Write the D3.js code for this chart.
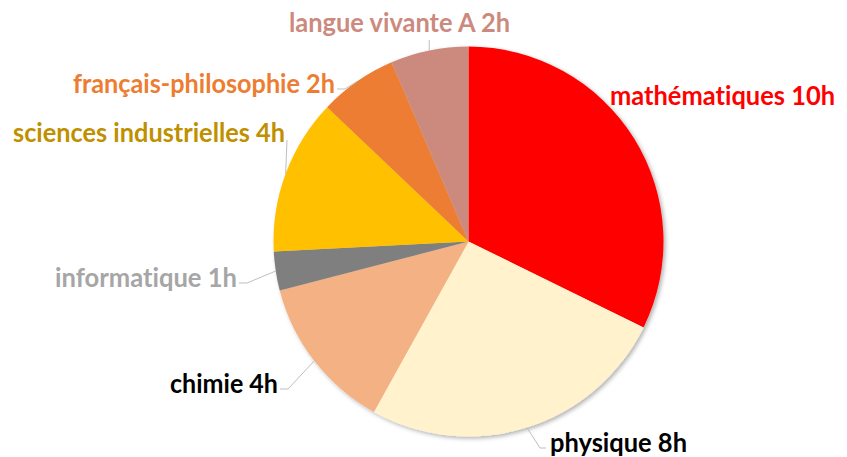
<!DOCTYPE html>
<html>
<head>
<meta charset="utf-8">
<script src="https://cdn.jsdelivr.net/npm/d3@7"></script>
<style>
  body { margin: 0; background: #fff; }
  svg { display: block; }
  text { font-variant-ligatures: none; }
</style>
</head>
<body>
<svg width="847" height="457"></svg>
<script>
// subjects and weekly hours
const subjects = ['mathématiques', 'physique', 'chimie', 'informatique',
                  'sciences industrielles', 'français-philosophie', 'langue vivante A'];
const hours = [10, 8, 4, 1, 4, 2, 2];

const sliceColors = ['#FF0000', '#FFF2CC', '#F4B183', '#7F7F7F', '#FFC000', '#ED7D31', '#CC8A7E'];
const textColors  = ['#FF0000', '#000000', '#000000', '#A6A6A6', '#BF9000', '#ED7D31', '#CC8A7E'];

// where each label sits (left x, baseline y, width) and whether it has a leader line
const labelLayout = [
  { x: 610, y: 105, w: 225, leader: false },
  { x: 550, y: 452, w: 137, leader: true },
  { x: 170, y: 393, w: 108, leader: true },
  { x: 55,  y: 287, w: 182, leader: true },
  { x: 13,  y: 142, w: 272, leader: true },
  { x: 73,  y: 93,  w: 262, leader: true },
  { x: 289, y: 32,  w: 221, leader: true }
];

const svg = d3.select('svg');
const width = +svg.attr('width');
const height = +svg.attr('height');

const cx = 468.5, cy = 241.5, radius = 195;

const defs = svg.append('defs');
const shadow = defs.append('filter')
    .attr('id', 'shadow')
    .attr('x', '-20%').attr('y', '-20%')
    .attr('width', '140%').attr('height', '140%');
shadow.append('feDropShadow')
    .attr('dx', 2).attr('dy', 2)
    .attr('stdDeviation', 2)
    .attr('flood-color', '#000')
    .attr('flood-opacity', 0.3);

const data = subjects.map((s, i) => ({ subject: s, hours: hours[i], i: i }));

const pie = d3.pie().sort(null).value(d => d.hours);
const arcs = pie(data);

const arc = d3.arc().innerRadius(0).outerRadius(radius);

const g = svg.append('g')
    .attr('transform', `translate(${cx}, ${cy})`);

g.append('g')
    .attr('filter', 'url(#shadow)')
  .selectAll('path')
  .data(arcs)
  .join('path')
    .attr('d', arc)
    .attr('fill', d => sliceColors[d.data.i]);

// leader lines: from the slice edge at its mid angle to the label
const edgePoint = d => {
  const a = (d.startAngle + d.endAngle) / 2;
  return [cx + radius * Math.sin(a), cy - radius * Math.cos(a)];
};

svg.append('g')
  .selectAll('path')
  .data(arcs.filter(d => labelLayout[d.data.i].leader))
  .join('path')
    .attr('fill', 'none')
    .attr('stroke', '#BFBFBF')
    .attr('stroke-width', 1)
    .attr('d', d => {
      const L = labelLayout[d.data.i];
      const p = edgePoint(d);
      let endX, endY, elbowX;
      if (d.data.subject === 'langue vivante A') {
        endX = p[0]; endY = L.y + 8;
        return `M${p[0]},${p[1]}L${endX},${endY}`;
      }
      const right = p[0] > cx;
      endX = right ? L.x - 4 : L.x + L.w + 2;
      endY = L.y - 4;
      if (d.data.subject === 'sciences industrielles') endY = L.y - 2;
      elbowX = right ? endX - 6 : endX + 8;
      if (d.data.subject === 'sciences industrielles') elbowX = endX;
      return `M${p[0]},${p[1]}L${elbowX},${endY}L${endX},${endY}`;
    });

svg.append('g')
  .selectAll('text')
  .data(arcs)
  .join('text')
    .attr('x', d => labelLayout[d.data.i].x)
    .attr('y', d => labelLayout[d.data.i].y)
    .attr('textLength', d => labelLayout[d.data.i].w)
    .attr('lengthAdjust', 'spacingAndGlyphs')
    .attr('font-family', 'Lato, "Open Sans", sans-serif')
    .attr('font-weight', 'bold')
    .attr('font-size', 26)
    .attr('fill', d => textColors[d.data.i])
    .text(d => `${d.data.subject} ${d.data.hours}h`);
</script>
</body>
</html>
